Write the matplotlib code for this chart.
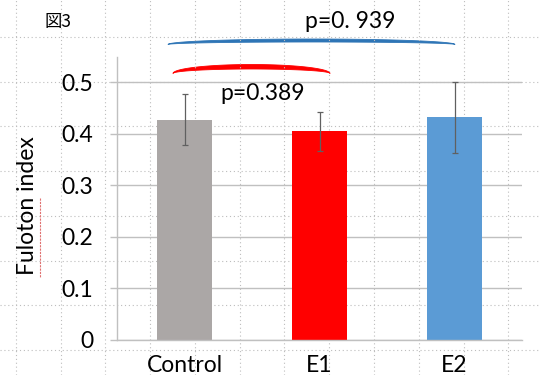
import numpy as np
import matplotlib.pyplot as plt

# data
groups = ['Control', 'E1', 'E2']
means = [0.428, 0.405, 0.432]
errors = [0.050, 0.038, 0.069]
bar_colors = ['#ABA7A6', '#FF0000', '#5B9BD5']
yticks = [0, 0.1, 0.2, 0.3, 0.4, 0.5]
ytick_labels = ['0', '0.1', '0.2', '0.3', '0.4', '0.5']

W, H = 540, 375
fig = plt.figure(figsize=(W / 100, H / 100), dpi=100)
font = 'Lato'
fs = 16.5

# background: slide with dotted grid (pixel coordinates)
bg = fig.add_axes([0, 0, 1, 1], zorder=0)
bg.set_xlim(0, W)
bg.set_ylim(H, 0)
bg.axis('off')
for gx in np.arange(15.7, W, 44.8):
    bg.axvline(gx, color='#BDBDBD', lw=0.8, ls=(0, (1, 2.5)))
for gy in np.arange(36.7, H, 44.8):
    bg.axhline(gy, color='#BDBDBD', lw=0.8, ls=(0, (1, 2.5)))

# main chart
left, right, top, bottom = 117, 522, 56.7, 340
ax = fig.add_axes([left / W, 1 - bottom / H, (right - left) / W, (bottom - top) / H], zorder=1)
ax.set_facecolor('none')
x = np.arange(len(groups))
ax.bar(x, means, width=0.41, color=bar_colors, zorder=2)
ax.errorbar(x, means, yerr=errors, fmt='none', ecolor='#606060', elinewidth=0.9,
            capsize=2.5, capthick=0.9, zorder=3)
ax.set_xlim(-0.5, 2.5)
ax.set_ylim(0, 0.55)
ax.set_yticks(yticks)
ax.set_yticklabels(ytick_labels, fontfamily=font, fontsize=fs)
ax.set_xticks(x)
ax.set_xticklabels(groups, fontfamily=font, fontsize=fs)
ax.yaxis.grid(True, color='#C0C0C0', lw=1, zorder=1)
ax.set_axisbelow(True)
ax.tick_params(axis='y', length=5.2, width=1, color='#C0C0C0', pad=12)
ax.tick_params(axis='x', length=0, pad=11)
for s in ['top', 'right']:
    ax.spines[s].set_visible(False)
for s in ['left', 'bottom']:
    ax.spines[s].set_color('#C0C0C0')
    ax.spines[s].set_linewidth(1)
ax.set_ylabel('Fuloton index', fontfamily=font, fontsize=fs)
ax.yaxis.set_label_coords((38 - left) / (right - left), (bottom - 206) / (bottom - top))

# spell-check underline under "Fuloton"
bg.plot([39.5, 39.5], [198, 277], color='#E07070', lw=0.8, ls=(0, (2, 1)))


def arc(x0, x1, yend, btop, bbot, color):
    th = np.linspace(0, np.pi, 80)
    xc, a = (x0 + x1) / 2, (x1 - x0) / 2
    xs = xc + a * np.cos(th)
    ytop = yend - btop * np.sin(th)
    ybot = yend - bbot * np.sin(th)
    bg.fill(np.concatenate([xs, xs[::-1]]), np.concatenate([ytop, ybot[::-1]]),
            color=color, lw=0.6, ec=color)


arc(168, 455, 44.5, 5.5, 2.5, '#2E75B6')
arc(173, 330, 73.5, 9, 4.5, '#FF0000')

bg.text(45, 22, '図3', fontsize=12.5, va='center', ha='left',
        family=['Noto Sans CJK JP', 'DejaVu Sans'])
bg.text(305, 22, 'p=0. 939', fontsize=fs, va='center', ha='left', fontfamily=font)
bg.text(220, 94, 'p=0.389', fontsize=fs, va='center', ha='left', fontfamily=font)

fig.savefig('out.png', dpi=100)
